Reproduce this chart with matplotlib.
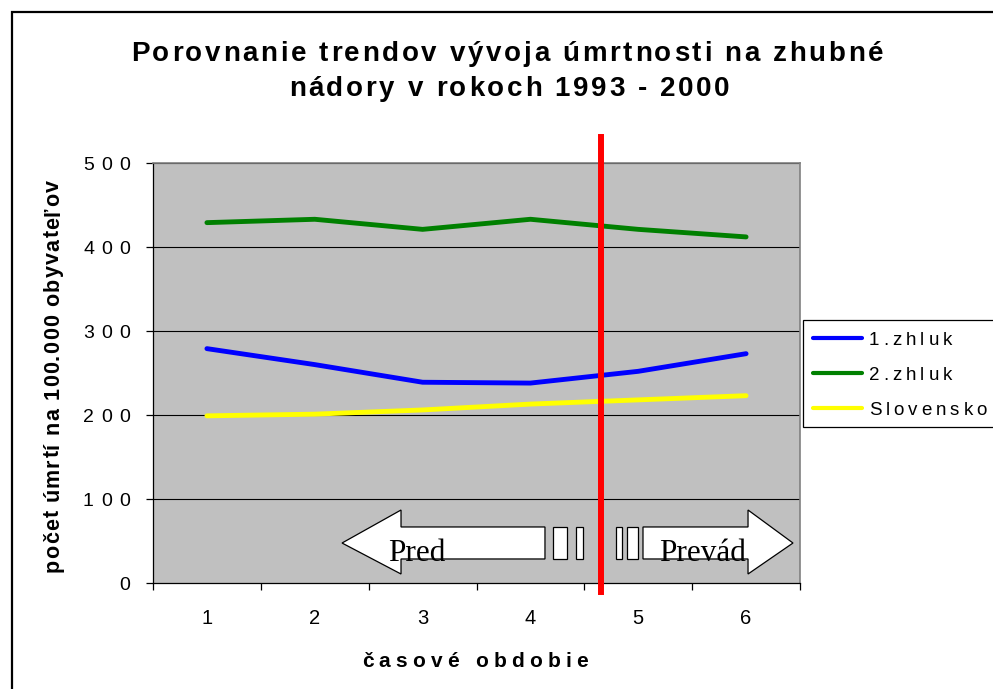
import matplotlib

matplotlib.use("Agg")
import matplotlib.pyplot as plt
import numpy as np
from matplotlib.font_manager import FontProperties, findfont, get_font
from matplotlib.lines import Line2D
from matplotlib.patches import Polygon, Rectangle
from matplotlib.transforms import offset_copy

# --------------------------------------------------------------------------- #
# Data
# --------------------------------------------------------------------------- #
PERIODS = [1, 2, 3, 4, 5, 6]
ZHLUK_1 = [279, 260, 239, 238, 252, 273]
ZHLUK_2 = [429, 433, 421, 433, 421, 412]
SLOVENSKO = [199, 201, 206, 213, 218, 223]
SERIES_NAMES = ["1.zhluk", "2.zhluk", "Slovensko"]
SERIES_COLORS = ["#0000ff", "#008000", "#ffff00"]
Y_TICKS = [0, 100, 200, 300, 400, 500]
DIVIDER_X = 4.65  # red line between period 4 and 5

TITLE_1 = "Porovnanie trendov vývoja úmrtnosti na zhubné"
TITLE_2 = "nádory v rokoch 1993 - 2000"
Y_LABEL = "počet úmrtí na 100.000 obyvateľov"
X_LABEL = "časové obdobie"

# "before / after" arrows (data units)
LEFT_ARROW = [(2.253, 47.6), (2.800, 86.9), (2.800, 66.7), (4.135, 66.7),
              (4.135, 28.6), (2.800, 28.6), (2.800, 10.7)]
RIGHT_ARROW = [(6.435, 47.6), (6.018, 86.9), (6.018, 66.7), (5.044, 66.7),
               (5.044, 28.6), (6.018, 28.6), (6.018, 10.7)]
BREAK_BARS = [(4.210, 4.339), (4.423, 4.488), (4.794, 4.849), (4.896, 4.998)]
BAR_Y = (28.6, 66.7)

# --------------------------------------------------------------------------- #
W, H = 993, 689
PT = 0.72  # points per pixel at dpi 100
FAMILY = "Liberation Sans"
BG = "#c0c0c0"

fig = plt.figure(figsize=(W / 100, H / 100), dpi=100)
fig.patch.set_facecolor("white")


def fx(px):
    return px / W


def fy(py):
    return 1 - py / H


def advances(s, size, weight="normal"):
    prop = FontProperties(family=FAMILY, size=size, weight=weight)
    font = get_font(findfont(prop))
    font.set_size(size, 72)
    return [font.load_char(ord(c)).linearHoriAdvance / 65536 for c in s]


def track_for(s, size, width_px, weight="normal"):
    adv = advances(s, size, weight)
    return (width_px * PT - sum(adv)) / (len(s) - 1)


def tracked(x, y, s, size, track, transform, ha="left", weight="normal",
            rotation=0, dy=0.0, color="black"):
    """Letter-spaced text, one glyph per Text, spacing `track` in points."""
    adv = advances(s, size, weight)
    total = sum(adv) + track * (len(s) - 1)
    pos = {"left": 0.0, "center": -total / 2, "right": -total}[ha]
    th = np.deg2rad(rotation)
    for ch, a in zip(s, adv):
        if not ch.isspace():
            ox = pos * np.cos(th) - dy * np.sin(th)
            oy = pos * np.sin(th) + dy * np.cos(th)
            tr = offset_copy(transform, fig=fig, x=ox, y=oy, units="points")
            fig.text(x, y, ch, transform=tr, fontsize=size, fontweight=weight,
                     family=FAMILY, ha="left", va="baseline", color=color,
                     rotation=rotation, rotation_mode="anchor")
        pos += a + track


# outer chart frame
fig.add_artist(Rectangle((fx(12), -0.1), 1.2, fy(12) + 0.1, transform=fig.transFigure,
                         fill=False, edgecolor="black", linewidth=1.6))

# --------------------------------------------------------------------------- #
# Plot area
# --------------------------------------------------------------------------- #
ax = fig.add_axes([fx(153), fy(583), (800 - 153) / W, (583 - 163) / H])
ax.set_facecolor(BG)
ax.set_xlim(0.5, 6.5)
ax.set_ylim(0, 500)

for v in Y_TICKS[1:]:
    ax.axhline(v, color="black", lw=0.8, zorder=1)

for name, vals, color in zip(SERIES_NAMES, [ZHLUK_1, ZHLUK_2, SLOVENSKO], SERIES_COLORS):
    ax.plot(PERIODS, vals, color=color, lw=3.5, solid_capstyle="round",
            solid_joinstyle="round", zorder=3, label=name)

ax.axvline(DIVIDER_X, ymin=-0.0214, ymax=1.062, color="#ff0000", lw=4.3,
           clip_on=False, zorder=6)

# arrows
for verts in (LEFT_ARROW, RIGHT_ARROW):
    ax.add_patch(Polygon(verts, closed=True, facecolor="white", edgecolor="black",
                         lw=0.9, zorder=4))
for x0, x1 in BREAK_BARS:
    ax.add_patch(Rectangle((x0, BAR_Y[0]), x1 - x0, BAR_Y[1] - BAR_Y[0],
                           facecolor="white", edgecolor="black", lw=0.9, zorder=4))

for label, x in (("Pred", 2.679), ("Prevád", 5.193)):
    t = ax.text(x, 26.2, label, family="Liberation Serif", fontsize=22.5,
                ha="left", va="baseline", zorder=5)
    t.set_clip_path(Rectangle((2.0, 34.5), 4.6, 31.5, transform=ax.transData))

# spines & ticks
for side in ("left", "bottom"):
    ax.spines[side].set_color("black")
    ax.spines[side].set_linewidth(0.9)
for side in ("top", "right"):
    ax.spines[side].set_color("#808080")
    ax.spines[side].set_linewidth(1.2)

ax.set_yticks(Y_TICKS)
ax.set_yticklabels([])
ax.tick_params(axis="y", length=5, width=0.9, direction="out", color="black")
ax.set_xticks(PERIODS)
ax.set_xticks(np.arange(0.5, 7.0, 1.0), minor=True)
ax.tick_params(axis="x", which="major", length=0, pad=19)
ax.tick_params(axis="x", which="minor", length=5, width=0.9, direction="out")
ax.set_xticklabels([str(p) for p in PERIODS], fontsize=14.5, family=FAMILY)

tick_size = 14.0
tick_track = track_for("500", tick_size, 47)
ytr = ax.get_yaxis_transform()
for v in Y_TICKS:
    tracked((130 - 153) / 647, v, str(v), tick_size, tick_track, ytr, ha="right",
            dy=-0.716 * tick_size / 2)

# --------------------------------------------------------------------------- #
# Titles and labels
# --------------------------------------------------------------------------- #
title_size = 20.0
title_track = track_for(TITLE_1, title_size, 752, weight="bold")
tracked(fx(507), fy(61), TITLE_1, title_size, title_track, fig.transFigure,
        ha="center", weight="bold")
tracked(fx(509), fy(96), TITLE_2, title_size, title_track, fig.transFigure,
        ha="center", weight="bold")

xl_size = 15.0
tracked(fx(475), fy(667), X_LABEL, xl_size, track_for(X_LABEL, xl_size, 226, "bold"),
        fig.transFigure, ha="center", weight="bold")

yl_size = 15.5
tracked(fx(59), fy(376), Y_LABEL, yl_size, track_for(Y_LABEL, yl_size, 392, "bold"),
        fig.transFigure, ha="center", weight="bold", rotation=90)

# --------------------------------------------------------------------------- #
# Legend (drawn by hand to match the boxed, letter-spaced original)
# --------------------------------------------------------------------------- #
fig.add_artist(Rectangle((fx(803), fy(427)), 0.3, (427 - 320) / H,
                         transform=fig.transFigure, facecolor="white",
                         edgecolor="black", lw=0.9))
leg_size = 13.5
leg_track = track_for("Slovensko", leg_size, 118)
for i, (name, color) in enumerate(zip(SERIES_NAMES, SERIES_COLORS)):
    yy = 338 + 35 * i
    fig.add_artist(Line2D([fx(813), fx(862)], [fy(yy), fy(yy)], color=color, lw=3.0,
                          solid_capstyle="round", transform=fig.transFigure))
    tracked(fx(869), fy(yy + 7), name, leg_size, leg_track, fig.transFigure)

fig.savefig("out.png", dpi=100, facecolor="white")
